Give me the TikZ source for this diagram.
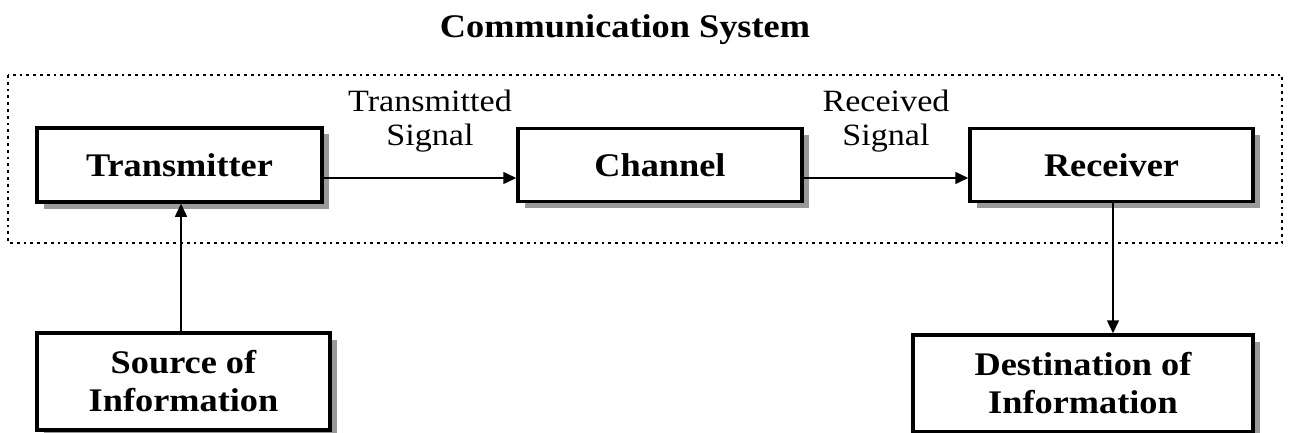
\documentclass[tikz,border=0pt]{standalone}
\usepackage{fontspec}
\setmainfont{Liberation Serif}[FakeStretch=1.1]
\usetikzlibrary{arrows.meta,shadows}
\begin{document}
\begin{tikzpicture}[x=1pt,y=-1pt,
  blockbox/.style={draw=black, line width=3.5pt, fill=white, rectangle,
    align=center, font=\fontsize{33}{38}\selectfont\bfseries,
    drop shadow={shadow xshift=6.5pt, shadow yshift=-6.5pt, fill=black!40, opacity=1}},
  link/.style={line width=1.5pt, -{Triangle[length=13pt,width=12pt]}},
  sig/.style={align=center, font=\fontsize{31}{34}\selectfont},
  framebox/.style={line width=2.8pt, dash pattern=on 2.8pt off 4pt}]
  \useasboundingbox (0,0) rectangle (1290,433);

  % title and the system frame
  \node[font=\fontsize{33}{38}\selectfont\bfseries] (title) at (625,30) {Communication System};
  \draw[framebox] (8,75) rectangle (1282,243);

  % blocks
  \node[blockbox, minimum width=285pt, minimum height=74pt] (tx) at (179.5,165) {Transmitter};
  \node[blockbox, minimum width=284pt, minimum height=73pt] (ch) at (660,165) {Channel};
  \node[blockbox, minimum width=283pt, minimum height=73pt] (rx) at (1111.5,165) {Receiver};
  \node[blockbox, minimum width=293pt, minimum height=97pt] (src) at (183.5,381.5) {Source of\\Information};
  \node[blockbox, minimum width=340pt, minimum height=97pt] (dst) at (1083,383.5) {Destination of\\Information};

  % signal labels
  \node[sig] (tsig) at (430,121) {Transmitted\\Signal};
  \node[sig] (rsig) at (886,121) {Received\\Signal};

  % connectors
  \draw[link] ([yshift=-13pt]tx.east) -- ([yshift=-13pt]ch.west);
  \draw[link] ([yshift=-13pt]ch.east) -- ([yshift=-13pt]rx.west);
  \draw[link] ([xshift=-2.5pt]src.north) -- ([xshift=-2.5pt]src.north |- tx.south);
  \draw[link] ([xshift=1.5pt]rx.south) -- ([xshift=1.5pt]rx.south |- dst.north);
\end{tikzpicture}
\end{document}
